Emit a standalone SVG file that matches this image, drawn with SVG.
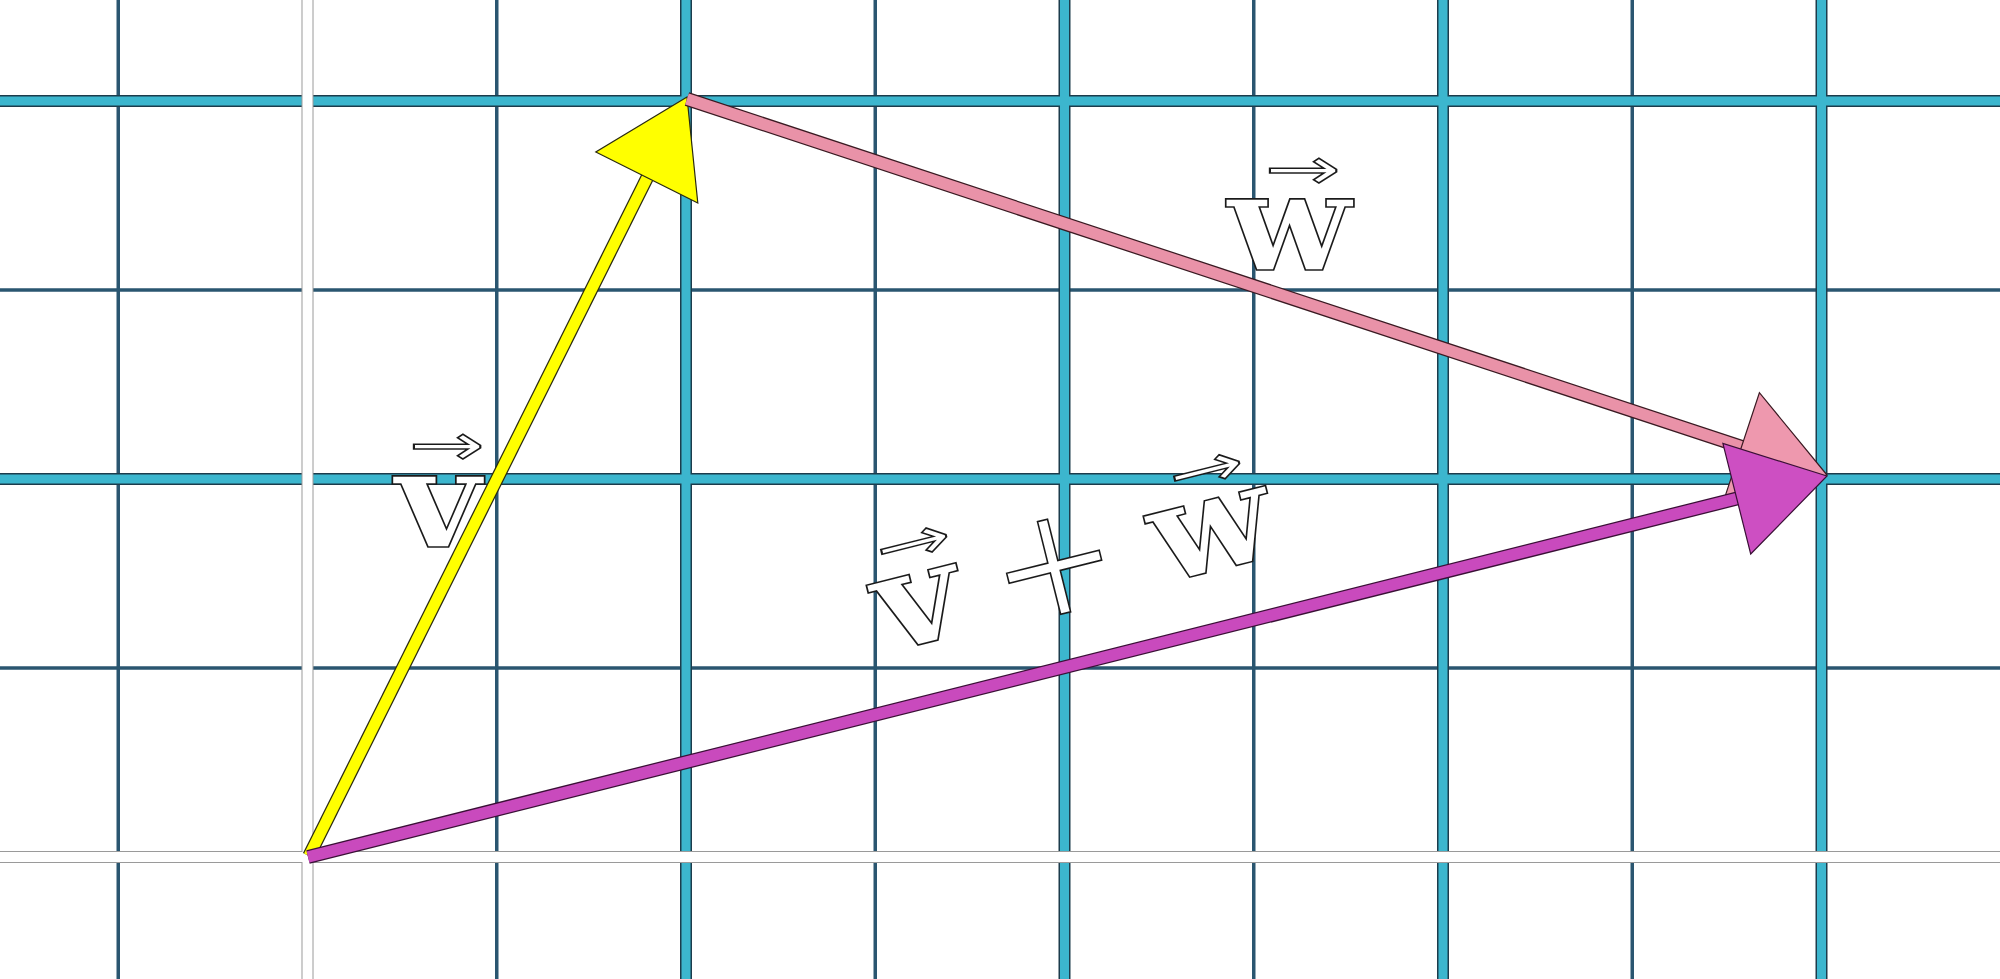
<svg xmlns="http://www.w3.org/2000/svg" width="2000" height="979" viewBox="0 0 2000 979">
  <defs>
    <style>
      .thin { stroke: #2a5670; stroke-width: 3.5; fill: none; }
      .thickOut { stroke: #1c3c4c; stroke-width: 12; fill: none; }
      .thickIn { stroke: #3cb6ce; stroke-width: 9; fill: none; }
      .axisOut { stroke: #9a9a9a; stroke-width: 12; fill: none; }
      .axisIn { stroke: #ffffff; stroke-width: 10; fill: none; }
      .lbl { font-family: "DejaVu Serif", "Liberation Serif", serif; font-weight: bold; font-size: 136px; fill: #ffffff; stroke: #1a1a1a; stroke-width: 1.6; }
      .plus { font-family: "Liberation Serif", "Times New Roman", serif; font-weight: normal; font-size: 205px; fill: #ffffff; stroke: #1a1a1a; stroke-width: 1.6; }
      .vec { font-family: "DejaVu Sans", sans-serif; font-size: 58px; fill: #ffffff; stroke: #1a1a1a; stroke-width: 1.4; }
    </style>
  </defs>
  <rect x="0" y="0" width="2000" height="979" fill="#ffffff"/>

  <g id="grid">
    <g class="thin">
      <line x1="118.25" y1="0" x2="118.25" y2="979"/>
      <line x1="496.75" y1="0" x2="496.75" y2="979"/>
      <line x1="875.25" y1="0" x2="875.25" y2="979"/>
      <line x1="1253.75" y1="0" x2="1253.75" y2="979"/>
      <line x1="1632.25" y1="0" x2="1632.25" y2="979"/>
      <line x1="0" y1="290" x2="2000" y2="290"/>
      <line x1="0" y1="668" x2="2000" y2="668"/>
    </g>
    <g class="thickOut">
      <line x1="686" y1="0" x2="686" y2="979"/>
      <line x1="1064.5" y1="0" x2="1064.5" y2="979"/>
      <line x1="1443" y1="0" x2="1443" y2="979"/>
      <line x1="1821.5" y1="0" x2="1821.5" y2="979"/>
      <line x1="0" y1="101" x2="2000" y2="101"/>
      <line x1="0" y1="479" x2="2000" y2="479"/>
    </g>
    <g class="thickIn">
      <line x1="686" y1="0" x2="686" y2="979"/>
      <line x1="1064.5" y1="0" x2="1064.5" y2="979"/>
      <line x1="1443" y1="0" x2="1443" y2="979"/>
      <line x1="1821.5" y1="0" x2="1821.5" y2="979"/>
      <line x1="0" y1="101" x2="2000" y2="101"/>
      <line x1="0" y1="479" x2="2000" y2="479"/>
    </g>
    <g class="axisOut">
      <line x1="307.5" y1="0" x2="307.5" y2="979"/>
      <line x1="0" y1="857" x2="2000" y2="857"/>
    </g>
    <g class="axisIn">
      <line x1="307.5" y1="0" x2="307.5" y2="979"/>
      <line x1="0" y1="857" x2="2000" y2="857"/>
    </g>
  </g>

  <g id="label-v">
    <text class="lbl" x="395" y="547" textLength="86" lengthAdjust="spacingAndGlyphs">v</text>
    <text class="vec" x="446.5" y="465" text-anchor="middle" textLength="76" lengthAdjust="spacingAndGlyphs">→</text>
  </g>

  <g id="label-w">
    <text class="lbl" x="1227" y="270" textLength="124" lengthAdjust="spacingAndGlyphs">w</text>
    <text class="vec" x="1302.5" y="189" text-anchor="middle" textLength="76" lengthAdjust="spacingAndGlyphs">→</text>
  </g>

  <g id="label-sum" transform="translate(886,653) rotate(-14.03)">
    <text class="lbl" x="0" y="0" textLength="86" lengthAdjust="spacingAndGlyphs">v</text>
    <text class="vec" x="53" y="-81" text-anchor="middle" textLength="76" lengthAdjust="spacingAndGlyphs">→</text>
    <text class="plus" x="184" y="25" text-anchor="middle">+</text>
    <text class="lbl" x="284" y="0" textLength="122" lengthAdjust="spacingAndGlyphs">w</text>
    <text class="vec" x="355" y="-81" text-anchor="middle" textLength="76" lengthAdjust="spacingAndGlyphs">→</text>
  </g>

  <g id="connectors">
    <g id="vec-v">
      <line x1="309" y1="856" x2="648" y2="176" stroke="#2a2a10" stroke-width="13.5"/>
      <line x1="309" y1="856" x2="648" y2="176" stroke="#ffff00" stroke-width="11"/>
      <polygon points="687,97 595.8,152 697.8,203" fill="#ffff00" stroke="#2a2a10" stroke-width="1.2"/>
    </g>
    <g id="vec-w">
      <line x1="687" y1="99" x2="1744" y2="447.6" stroke="#3a1a22" stroke-width="14"/>
      <line x1="687" y1="99" x2="1744" y2="447.6" stroke="#e992a8" stroke-width="11.5"/>
      <polygon points="1827,475 1759.4,392.7 1723.6,500.9" fill="#ee98ae" stroke="#3a1a22" stroke-width="1.2"/>
    </g>
    <g id="vec-sum">
      <line x1="308" y1="857" x2="1739" y2="498" stroke="#3a1036" stroke-width="14"/>
      <line x1="308" y1="857" x2="1739" y2="498" stroke="#c94abd" stroke-width="11.5"/>
      <polygon points="1827,476 1722.9,443.4 1750.7,554" fill="#cd4fc2" stroke="#3a1036" stroke-width="1.2"/>
    </g>
  </g>
</svg>
